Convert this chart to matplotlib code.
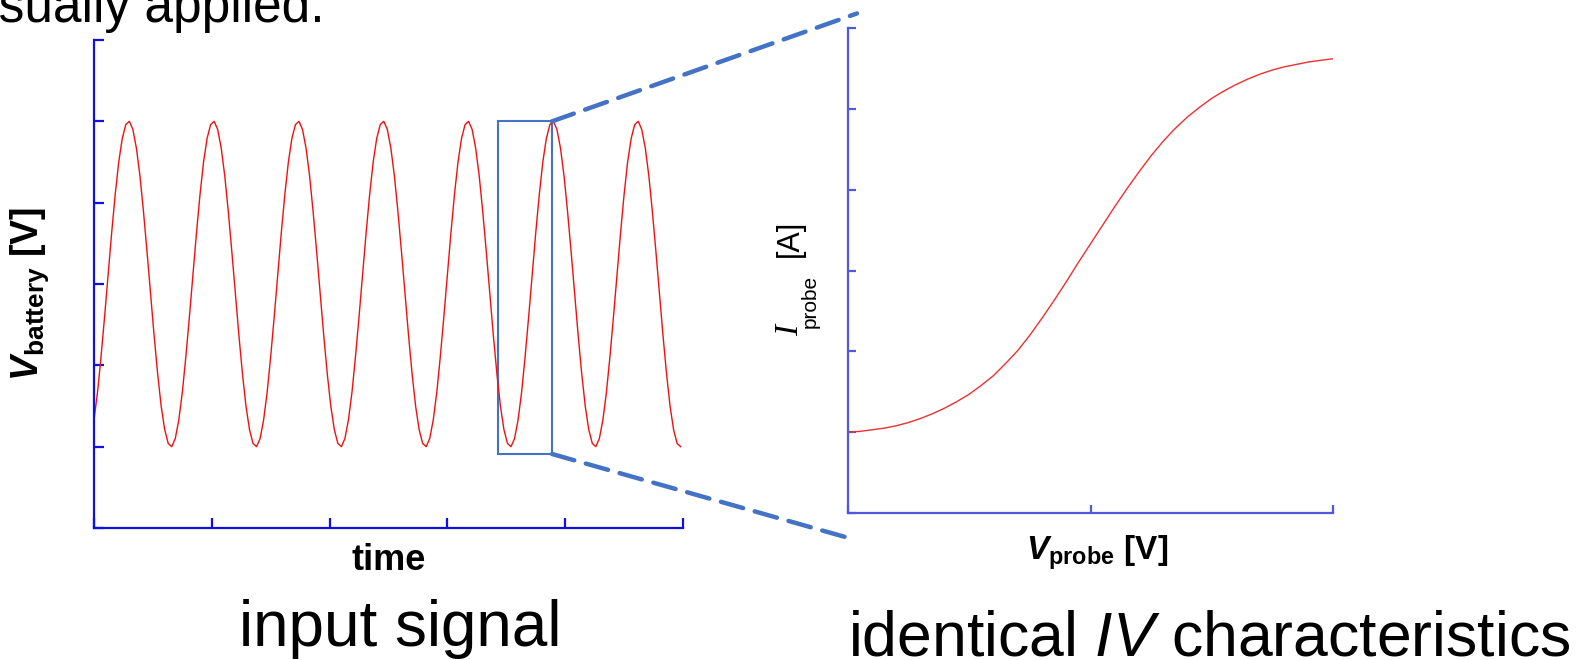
#!/usr/bin/env python3
"""
Sketch: periodic input signal and the probe IV curve it sweeps over
"""

import numpy as np
import matplotlib.pyplot as plt
from matplotlib.patches import Rectangle, ConnectionPatch

plt.rcParams['font.family'] = ['Liberation Sans', 'DejaVu Sans']
plt.rcParams['mathtext.fontset'] = 'custom'
plt.rcParams['mathtext.rm'] = 'Liberation Sans'
plt.rcParams['mathtext.it'] = 'Liberation Sans:italic'
plt.rcParams['mathtext.bf'] = 'Liberation Sans:bold'
if 'mathtext.bfit' in plt.rcParams:
    plt.rcParams['mathtext.bfit'] = 'Liberation Sans:italic:bold'

# battery voltage, sampled every 0.03 time units (one row = one period)
time_step = 0.03
v_battery = [
    1.33, 1.67, 2.11, 2.60, 3.12, 3.63, 4.10, 4.50, 4.79, 4.96, 5.00, 4.90,
    4.67, 4.33, 3.89, 3.40, 2.88, 2.37, 1.90, 1.50, 1.21, 1.04, 1.00, 1.10,
    1.33, 1.67, 2.11, 2.60, 3.12, 3.63, 4.10, 4.50, 4.79, 4.96, 5.00, 4.90,
    4.67, 4.33, 3.89, 3.40, 2.88, 2.37, 1.90, 1.50, 1.21, 1.04, 1.00, 1.10,
    1.33, 1.67, 2.11, 2.60, 3.12, 3.63, 4.10, 4.50, 4.79, 4.96, 5.00, 4.90,
    4.67, 4.33, 3.89, 3.40, 2.88, 2.37, 1.90, 1.50, 1.21, 1.04, 1.00, 1.10,
    1.33, 1.67, 2.11, 2.60, 3.12, 3.63, 4.10, 4.50, 4.79, 4.96, 5.00, 4.90,
    4.67, 4.33, 3.89, 3.40, 2.88, 2.37, 1.90, 1.50, 1.21, 1.04, 1.00, 1.10,
    1.33, 1.67, 2.11, 2.60, 3.12, 3.63, 4.10, 4.50, 4.79, 4.96, 5.00, 4.90,
    4.67, 4.33, 3.89, 3.40, 2.88, 2.37, 1.90, 1.50, 1.21, 1.04, 1.00, 1.10,
    1.33, 1.67, 2.11, 2.60, 3.12, 3.63, 4.10, 4.50, 4.79, 4.96, 5.00, 4.90,
    4.67, 4.33, 3.89, 3.40, 2.88, 2.37, 1.90, 1.50, 1.21, 1.04, 1.00, 1.10,
    1.33, 1.67, 2.11, 2.60, 3.12, 3.63, 4.10, 4.50, 4.79, 4.96, 5.00, 4.90,
    4.67, 4.33, 3.89, 3.40, 2.88, 2.37, 1.90, 1.50, 1.21, 1.04, 1.00,
]

# probe IV curve
v_probe = [0.00, 0.05, 0.10, 0.15, 0.20, 0.25, 0.30, 0.35, 0.40, 0.45,
           0.50, 0.55, 0.60, 0.65, 0.70, 0.75, 0.80, 0.85, 0.90, 0.95,
           1.00, 1.05, 1.10, 1.15, 1.20, 1.25, 1.30, 1.35, 1.40, 1.45,
           1.50, 1.55, 1.60, 1.65, 1.70, 1.75, 1.80, 1.85, 1.90, 1.95, 2.00]
i_probe = [1.00, 1.01, 1.03, 1.05, 1.08, 1.12, 1.17, 1.23, 1.30, 1.38,
           1.47, 1.58, 1.70, 1.85, 2.01, 2.20, 2.41, 2.63, 2.86, 3.10,
           3.33, 3.56, 3.79, 4.01, 4.22, 4.42, 4.60, 4.76, 4.90, 5.02,
           5.13, 5.22, 5.30, 5.37, 5.43, 5.48, 5.52, 5.55, 5.58, 5.60, 5.62]

# one sweep of the signal: time window and voltage span of the zoom box
zoom_t = (3.43, 3.888)
zoom_v = (0.91, 5.0)

W, H = 1590, 660
fig = plt.figure(figsize=(W / 100, H / 100), dpi=100)


def style_axes(ax, color, ticklen):
    for side in ['top', 'right']:
        ax.spines[side].set_visible(False)
    for side in ['left', 'bottom']:
        ax.spines[side].set_color(color)
        ax.spines[side].set_linewidth(1.6)
    ax.tick_params(direction='in', length=ticklen, width=1.6, color=color,
                   labelleft=False, labelbottom=False)


# left: input signal
ax1 = fig.add_axes([94 / W, 1 - 528 / H, 589 / W, 488 / H])
t = np.arange(len(v_battery)) * time_step
ax1.plot(t, v_battery, color='#f01010', lw=1.0)
ax1.set_xlim(0, 5)
ax1.set_ylim(0, 6)
ax1.set_xticks(range(6))
ax1.set_yticks(range(7))
style_axes(ax1, '#1010e0', 7)

ax1.add_patch(Rectangle((zoom_t[0], zoom_v[0]), zoom_t[1] - zoom_t[0],
                        zoom_v[1] - zoom_v[0], fill=False,
                        edgecolor='#4472c4', lw=1.5, clip_on=False))

# right: IV characteristics
ax2 = fig.add_axes([848 / W, 1 - 513 / H, 485 / W, 485 / H])
ax2.plot(v_probe, i_probe, color='#ee3030', lw=1.0)
ax2.set_xlim(0, 2)
ax2.set_ylim(0, 6)
ax2.set_xticks([0, 1, 2])
ax2.set_yticks(range(7))
style_axes(ax2, '#5058e0', 6)

# dashed zoom lines from the box to the IV plot
for yA, xyB in [(zoom_v[1], (0.037, 6.18)), (zoom_v[0], (0.004, -0.31))]:
    con = ConnectionPatch(xyA=(zoom_t[1], yA), coordsA=ax1.transData,
                          xyB=xyB, coordsB=ax2.transData,
                          color='#4472c4', lw=3.2, ls=(0, (5.2, 2.7)))
    con.set_clip_on(False)
    fig.add_artist(con)

# axis labels
fig.text(30 / W, 1 - 294 / H, r'$\mathbfit{V}_{\mathbf{battery}}$ [V]',
         rotation=90, ha='center', va='center', fontsize=27, fontweight='bold')
fig.text(389 / W, 1 - 561 / H, 'time', ha='center', va='center',
         fontsize=26, fontweight='bold')

# I_probe [A], built from pieces (serif italic I, sans subscript)
fig.text(790 / W, 1 - 330 / H, 'I', rotation=90, ha='center', va='center',
         fontsize=24, family='Liberation Serif', style='italic')
fig.text(810 / W, 1 - 301 / H, 'probe', rotation=90, ha='center',
         va='center', fontsize=15)
fig.text(790 / W, 1 - 238 / H, '[A]', rotation=90, ha='center',
         va='center', fontsize=22)

fig.text(1097 / W, 1 - 553 / H, r'$\mathbfit{V}_{\mathbf{probe}}$ [V]',
         ha='center', va='center', fontsize=24, fontweight='bold')

# captions
fig.text(325 / W, 1 - 22 / H, 'usually applied.', ha='right', va='baseline',
         fontsize=37)
fig.text(400 / W, 1 - 646 / H, 'input signal', ha='center', va='baseline',
         fontsize=46)
fig.text(1209 / W, 1 - 655 / H, r'identical $\mathit{IV}$ characteristics',
         ha='center', va='baseline', fontsize=45)

plt.savefig('out.png', dpi=100)
